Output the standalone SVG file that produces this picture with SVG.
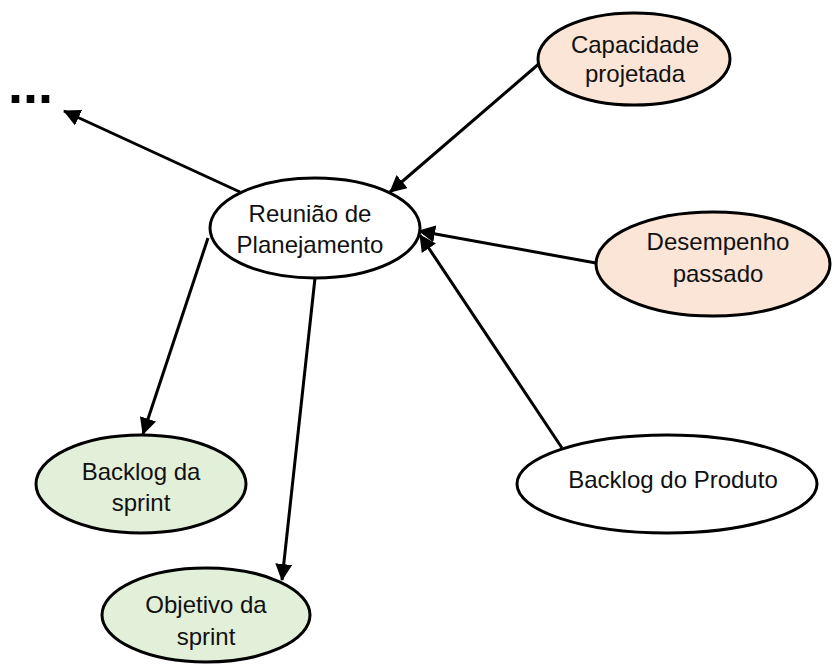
<svg xmlns="http://www.w3.org/2000/svg" width="833" height="665" viewBox="0 0 833 665">
  <style>
    .node ellipse { stroke: #000; stroke-width: 3; }
    .plain { fill: #fff; }
    .peach { fill: #FBE5D6; }
    .green { fill: #E2EFD9; }
    text { font-family: "Liberation Sans", Arial, sans-serif; font-size: 24px; fill: #111; text-anchor: middle; }
    .edge { stroke: #000; stroke-width: 3; fill: none; marker-end: url(#arrow); }
  </style>
  <defs>
    <marker id="arrow" viewBox="0 0 17 17" refX="16" refY="8.5" markerWidth="17" markerHeight="17" markerUnits="userSpaceOnUse" orient="auto">
      <path d="M0,0 L17,8.5 L0,17 Z" fill="#000"/>
    </marker>
  </defs>

  <rect width="833" height="665" fill="#fff"/>

  <!-- connectors -->
  <g id="connectors">
    <line class="edge" x1="240" y1="192" x2="64" y2="111"/>
    <line class="edge" x1="541" y1="62" x2="390" y2="192"/>
    <line class="edge" x1="596" y1="263" x2="419" y2="231"/>
    <line class="edge" x1="562" y1="448" x2="420" y2="235"/>
    <line class="edge" x1="208" y1="238" x2="143" y2="434"/>
    <line class="edge" x1="315" y1="278" x2="282" y2="580"/>
  </g>

  <!-- continuation marker -->
  <text id="more" x="8" y="103" style="font-size:54px;font-weight:bold;text-anchor:start;fill:#000">...</text>

  <g id="reuniao" class="node">
    <ellipse class="plain" cx="315" cy="228" rx="105" ry="50"/>
    <text x="310" y="222">Reunião de</text>
    <text x="310" y="253">Planejamento</text>
  </g>

  <g id="capacidade" class="node">
    <ellipse class="peach" cx="634" cy="59" rx="96" ry="46"/>
    <text x="635" y="53">Capacidade</text>
    <text x="635" y="82">projetada</text>
  </g>

  <g id="desempenho" class="node">
    <ellipse class="peach" cx="713" cy="264" rx="117" ry="52"/>
    <text x="718" y="250">Desempenho</text>
    <text x="718" y="282">passado</text>
  </g>

  <g id="backlog-produto" class="node">
    <ellipse class="plain" cx="667" cy="484" rx="150" ry="49"/>
    <text x="673" y="488">Backlog do Produto</text>
  </g>

  <g id="backlog-sprint" class="node">
    <ellipse class="green" cx="141" cy="484" rx="105" ry="49"/>
    <text x="141" y="480">Backlog da</text>
    <text x="141" y="511">sprint</text>
  </g>

  <g id="objetivo-sprint" class="node">
    <ellipse class="green" cx="206" cy="615" rx="104" ry="47"/>
    <text x="206" y="613">Objetivo da</text>
    <text x="206" y="645">sprint</text>
  </g>
</svg>
